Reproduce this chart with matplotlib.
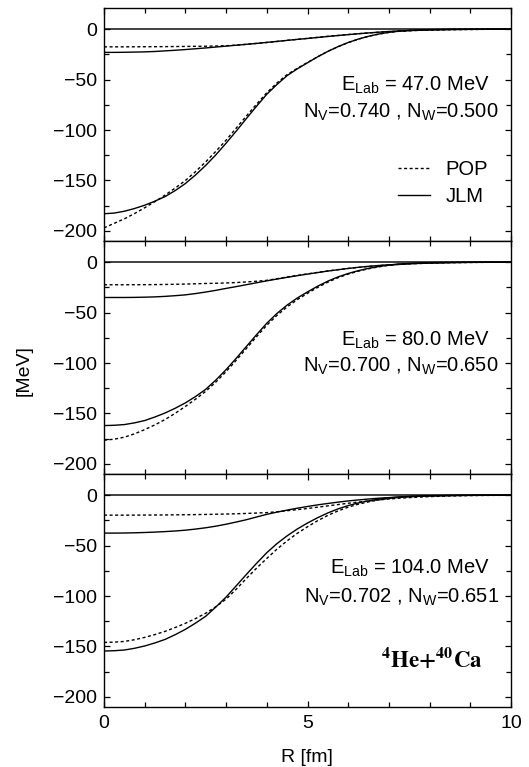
import matplotlib
matplotlib.use("Agg")
import matplotlib.pyplot as plt
from matplotlib.ticker import MultipleLocator

plt.rcParams['font.family'] = ['Liberation Sans', 'DejaVu Sans']
plt.rcParams['mathtext.fontset'] = 'custom'
plt.rcParams['mathtext.rm'] = 'Liberation Sans'
plt.rcParams['mathtext.it'] = 'Liberation Sans:italic'
plt.rcParams['mathtext.bf'] = 'Liberation Sans:bold'

R = [0.0, 0.25, 0.5, 0.75, 1.0, 1.25, 1.5, 1.75, 2.0, 2.25, 2.5, 2.75,
     3.0, 3.25, 3.5, 3.75, 4.0, 4.25, 4.5, 4.75, 5.0, 5.25, 5.5, 5.75,
     6.0, 6.25, 6.5, 6.75, 7.0, 7.25, 7.5, 7.75, 8.0, 8.5, 9.0, 9.5, 10.0]

# Panel 1: E_Lab = 47.0 MeV
jlm_real_47 = [-183, -182.3, -180.5, -177.8, -174.5, -170.5, -166, -160, -153, -144.5, -135, -124.5,
               -113, -101, -88.5, -76.3, -64.5, -54.8, -46, -39.3, -33.3, -27.4, -22, -17.3,
               -13.2, -9.8, -7.0, -4.8, -3.1, -2.0, -1.2, -0.8, -0.5, -0.2, -0.1, 0, 0]
pop_real_47 = [-197, -192.5, -188, -182.8, -177, -171, -164.5, -157.5, -150, -141.2, -131.5, -121,
               -110, -98, -86, -74.3, -63, -53.3, -45, -38.8, -33, -27.3, -22, -17.4,
               -13.3, -9.9, -7.1, -4.9, -3.2, -2.0, -1.3, -0.8, -0.5, -0.2, -0.1, 0, 0]
jlm_imag_47 = [-23, -23, -22.9, -22.7, -22.5, -22.1, -21.5, -20.9, -20.2, -19.4, -18.6, -17.7,
               -16.8, -15.9, -15, -14.1, -13.1, -12.1, -11.1, -10.1, -9.2, -8.2, -7.2, -6.3,
               -5.4, -4.5, -3.7, -3.0, -2.3, -1.8, -1.4, -1.1, -0.8, -0.4, -0.2, -0.1, 0]
pop_imag_47 = [-17.5, -17.5, -17.5, -17.45, -17.4, -17.35, -17.3, -17.2, -17.1, -17.0, -16.9, -16.7,
               -16.4, -15.8, -15.0, -14.1, -13.2, -12.2, -11.1, -10.1, -9.1, -8.1, -7.1, -6.2,
               -5.3, -4.5, -3.7, -3.0, -2.4, -1.9, -1.5, -1.2, -0.9, -0.5, -0.3, -0.1, 0]

# Panel 2: E_Lab = 80.0 MeV
jlm_real_80 = [-162, -161.7, -161, -159.3, -157, -153.5, -149.5, -144.8, -139.5, -133.2, -126, -116.8,
               -106.5, -95.2, -83.5, -71.8, -60.5, -50.8, -42.5, -35.5, -29.5, -23.8, -18.8, -14.6,
               -11.2, -8.4, -6.1, -4.3, -2.9, -1.9, -1.2, -0.8, -0.5, -0.2, -0.1, 0, 0]
pop_real_80 = [-176.5, -175.5, -173.5, -170.2, -166, -161.3, -156, -149.8, -143, -135.8, -128, -118.8,
               -108.5, -97.2, -85.5, -73.8, -62.5, -52.7, -44.3, -37.1, -30.9, -25, -19.8, -15.4,
               -11.8, -8.9, -6.5, -4.6, -3.1, -2.1, -1.4, -0.9, -0.6, -0.2, -0.1, 0, 0]
jlm_imag_80 = [-35, -35, -35, -34.9, -34.7, -34.4, -33.9, -33.2, -32.4, -31.1, -29.6, -27.9,
               -26, -24.2, -22.3, -20.4, -18.5, -16.7, -15, -13.4, -11.8, -10.3, -8.8, -7.5,
               -6.2, -5.1, -4.1, -3.3, -2.6, -2.1, -1.6, -1.2, -0.9, -0.5, -0.2, -0.1, 0]
pop_imag_80 = [-22.4, -22.4, -22.4, -22.35, -22.3, -22.2, -22.1, -21.9, -21.7, -21.4, -21.1, -20.9,
               -20.6, -20.2, -19.6, -18.9, -18.0, -16.4, -14.7, -13.1, -11.6, -10.1, -8.7, -7.4,
               -6.2, -5.1, -4.2, -3.4, -2.7, -2.2, -1.7, -1.3, -1.0, -0.5, -0.3, -0.1, 0]

# Panel 3: E_Lab = 104.0 MeV
jlm_real_104 = [-154.5, -154.2, -153.5, -151.8, -149.5, -146.5, -143, -138.3, -133, -126.8, -120, -110.8,
                -101, -89.8, -78.5, -67.5, -57, -48, -40.3, -33.5, -27.6, -22.3, -17.6, -13.6,
                -10.3, -7.7, -5.6, -3.9, -2.7, -1.8, -1.2, -0.8, -0.5, -0.2, -0.1, 0, 0]
pop_real_104 = [-146, -145.7, -145, -143.3, -141, -138.2, -135, -131.2, -127, -122.3, -117, -110.5,
                -103, -93.2, -82.5, -72.3, -62.7, -53.5, -45.2, -37.8, -31.3, -25.3, -20, -15.6,
                -11.9, -8.9, -6.6, -4.7, -3.3, -2.2, -1.5, -1.0, -0.6, -0.3, -0.1, 0, 0]
jlm_imag_104 = [-37.6, -37.6, -37.5, -37.3, -37, -36.6, -36.1, -35.5, -34.7, -33.6, -32.3, -30.7,
                -28.8, -26.6, -24.3, -21.6, -19.0, -16.8, -14.8, -12.9, -11.2, -9.6, -8.2, -6.9,
                -5.7, -4.7, -3.8, -3.0, -2.4, -1.8, -1.4, -1.1, -0.8, -0.4, -0.2, -0.1, 0]
pop_imag_104 = [-19.8, -19.8, -19.8, -19.75, -19.7, -19.65, -19.6, -19.5, -19.4, -19.25, -19.1, -18.9,
                -18.7, -18.4, -18.1, -17.7, -17.3, -16.4, -15.4, -14.3, -13.2, -11.9, -10.6, -9.3,
                -8.0, -6.8, -5.7, -4.7, -3.8, -3.0, -2.4, -1.9, -1.4, -0.8, -0.4, -0.2, -0.1]

energies = ["47.0", "80.0", "104.0"]
nv_values = ["0.740", "0.700", "0.702"]
nw_values = ["0.500", "0.650", "0.651"]

panels = [
    (jlm_real_47, pop_real_47, jlm_imag_47, pop_imag_47),
    (jlm_real_80, pop_real_80, jlm_imag_80, pop_imag_80),
    (jlm_real_104, pop_real_104, jlm_imag_104, pop_imag_104),
]

W, H = 529, 767
fig = plt.figure(figsize=(W / 100, H / 100), dpi=100)

left = 104 / W
width = 407 / W
bottom = 1 - 707 / H
ph = 233 / H

dash = (0, (2.2, 1.8))
fs = 14
fs_txt = 14.5
e_y = [0.670, 0.575, 0.597]
n_y = [0.554, 0.462, 0.472]

for i, (jr, pr, ji, pi) in enumerate(panels):
    ax = fig.add_axes([left, bottom + (2 - i) * ph, width, ph])
    ax.axhline(0, color='0.2', lw=1.3, zorder=1)
    l_pop, = ax.plot(R, pr, color='black', lw=1.0, ls=dash, label='POP')
    l_jlm, = ax.plot(R, jr, color='black', lw=1.0, ls='-', label='JLM')
    ax.plot(R, pi, color='black', lw=1.0, ls=dash)
    ax.plot(R, ji, color='black', lw=1.0, ls='-')

    ax.set_xlim(0, 10)
    ax.set_ylim(-210, 21)
    ax.xaxis.set_major_locator(MultipleLocator(5))
    ax.xaxis.set_minor_locator(MultipleLocator(1))
    ax.yaxis.set_major_locator(MultipleLocator(50))
    ax.yaxis.set_minor_locator(MultipleLocator(25))
    ax.tick_params(which='both', direction='in', top=True, right=True,
                   labelsize=fs, width=0.9)
    ax.tick_params(which='major', length=4.5)
    ax.tick_params(which='minor', length=3.5)
    ax.tick_params(axis='y', which='major', pad=5)
    ax.tick_params(axis='x', which='major', pad=6)
    for s in ax.spines.values():
        s.set_linewidth(1.0)
    if i < 2:
        ax.tick_params(labelbottom=False)

    ax.text(0.948, e_y[i],
            r'E$_{\mathrm{Lab}}$ = ' + energies[i] + ' MeV',
            transform=ax.transAxes, ha='right', va='center', fontsize=fs_txt)
    ax.text(0.970, n_y[i],
            r'N$_{\mathrm{V}}$=' + nv_values[i] + r' , N$_{\mathrm{W}}$=' + nw_values[i],
            transform=ax.transAxes, ha='right', va='center', fontsize=fs_txt)

    if i == 0:
        ax.legend(handles=[l_pop, l_jlm], loc='center left',
                  bbox_to_anchor=(0.722, 0.25), frameon=False, fontsize=fs_txt,
                  handlelength=1.6, handletextpad=0.75, labelspacing=0.38,
                  borderpad=0, borderaxespad=0)
    if i == 2:
        ax.text(0.805, 0.205, r'$\mathbf{^{4}He{+}^{40}Ca}$',
                transform=ax.transAxes, ha='center', va='center', fontsize=16.5,
                math_fontfamily='stix')

fig.text(24.5 / W, 1 - 371 / H, '[MeV]', rotation=90, ha='center', va='center',
         fontsize=fs)
fig.text(307 / W, 1 - 757 / H, 'R [fm]', ha='center', va='center', fontsize=fs)

fig.savefig('out.png', dpi=100)
